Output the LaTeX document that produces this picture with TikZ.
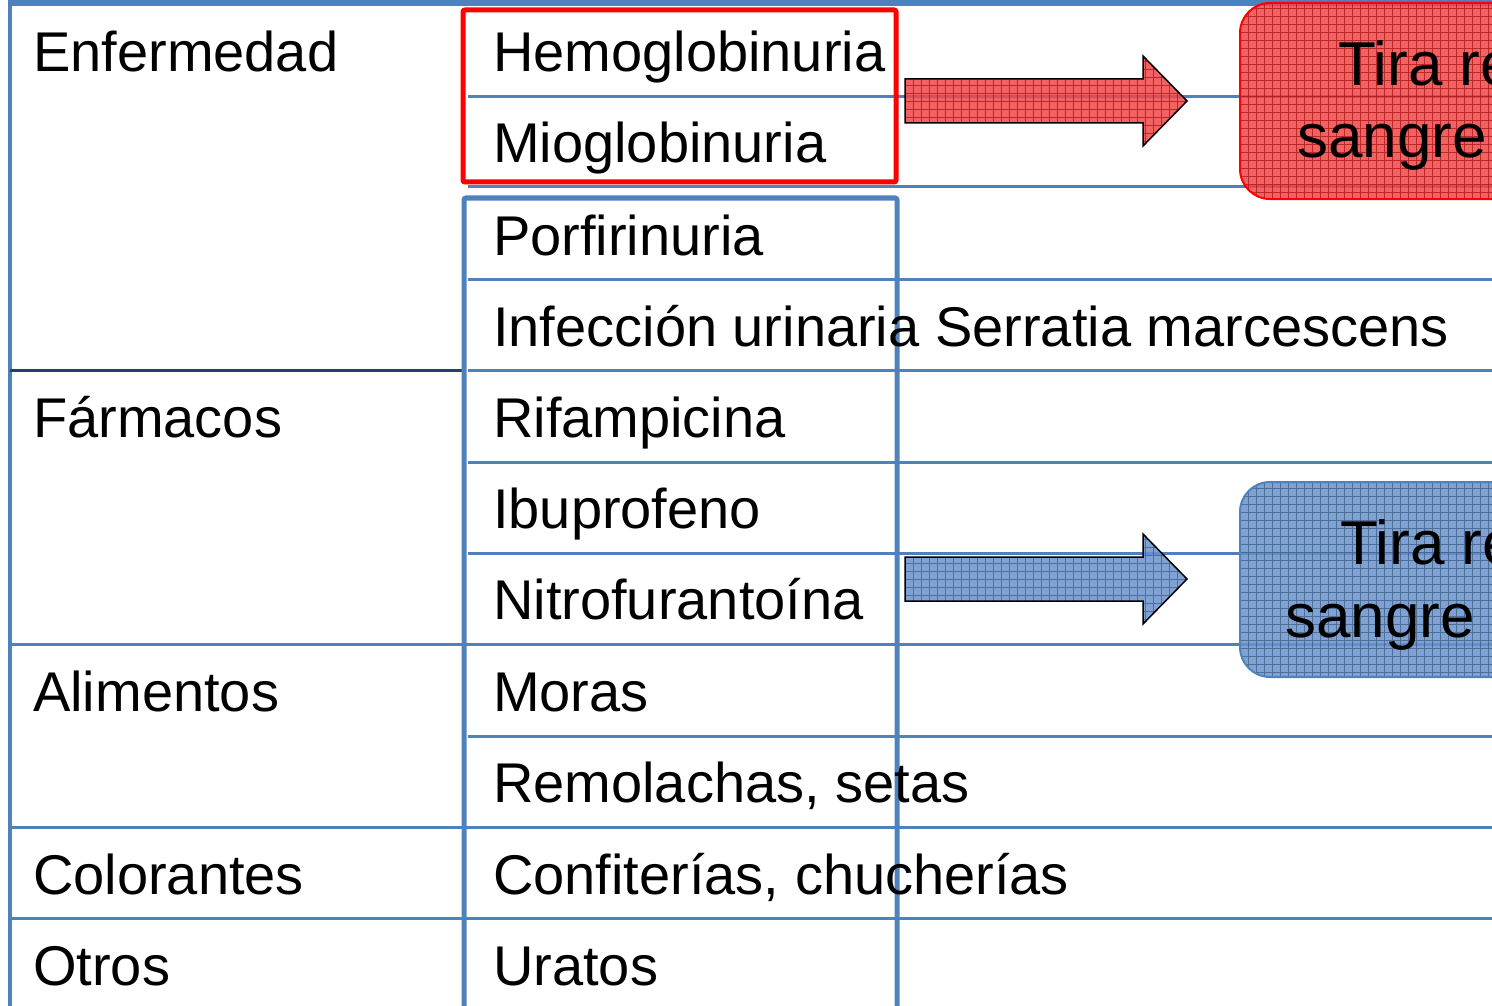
\documentclass[tikz,border=0pt]{standalone}
\usepackage{fontspec}
\setmainfont{Liberation Sans}
\usetikzlibrary{positioning}
\definecolor{tblue}{RGB}{79,129,189}
\definecolor{tnavy}{RGB}{36,64,112}
\definecolor{boxred}{RGB}{240,70,70}
\definecolor{boxblue}{RGB}{104,145,204}

\tikzset{
  rule/.style={tblue, line width=3},
  cell/.style={anchor=base west, inner sep=0pt, font=\fontsize{56}{60}\selectfont},
  boxtext/.style={anchor=base west, inner sep=0pt, font=\fontsize{62}{66}\selectfont},
  hatched/.style={path picture={\draw[#1, line width=0.5, opacity=0.6, step=8pt]
      (path picture bounding box.south west) grid (path picture bounding box.north east);}},
  redpatch/.style={fill=boxred, fill opacity=0.85, hatched=red!60!black},
  bluepatch/.style={fill=boxblue, fill opacity=0.85, hatched=tblue!60!black},
  pics/blockarrow/.style={code={
      \draw[pic actions] (0,-22) -- (238,-22) -- (238,-45) -- (282,0)
        -- (238,45) -- (238,22) -- (0,22) -- cycle;}}
}

\begin{document}
\begin{tikzpicture}[x=1pt, y=-1pt]
        \useasboundingbox (0,0) rectangle (1492,1006);
        \clip (0,0) rectangle (1492,1006);
        % table rules
        \draw[tblue, line width=6] (10,3) -- (1492,3);
        \draw[tblue, line width=4] (10,0) -- (10,1006);
        \draw[rule] (468,97) -- (1492,97);
        \draw[rule] (468,187) -- (1492,187);
        \draw[rule] (468,279) -- (1492,279);
        \draw[tnavy, line width=3] (10,370) -- (465,370);
        \draw[rule] (468,370) -- (1492,370);
        \draw[rule] (468,462) -- (1492,462);
        \draw[rule] (468,553) -- (1492,553);
        \draw[rule] (10,644) -- (1492,644);
        \draw[rule] (468,736) -- (1492,736);
        \draw[rule] (10,827) -- (1492,827);
        \draw[rule] (10,918) -- (1492,918);
        % highlight frames
        \draw[red, line width=5, rounded corners=2] (463,10) rectangle (896,182);
        \draw[tblue, line width=5, rounded corners=2] (464,198) rectangle (897,1012);
        % arrows and result boxes
        \pic[draw=black, line width=1.5, redpatch] (rarrow) at (905,101) {blockarrow};
        \pic[draw=black, line width=1.5, bluepatch] (barrow) at (905,579) {blockarrow};
        \draw[red, line width=2, rounded corners=30, redpatch] (1240,3) rectangle (1600,199);
        \draw[tblue, line width=2, rounded corners=30, bluepatch] (1240,482) rectangle (1600,677);
        \node[boxtext] (rtira) at (1338,86) {Tira re};
        \node[boxtext] (rsangre) at (1297,158) {sangre};
        \node[boxtext] (btira) at (1340,564) {Tira re};
        \node[boxtext] (bsangre) at (1285,637) {sangre};
        % first column
        \node[cell] (enf) at (33,72) {Enfermedad};
        \node[cell] (farm) at (33,437) {Fármacos};
        \node[cell] (alim) at (33,711) {Alimentos};
        \node[cell] (colo) at (33,894) {Colorantes};
        \node[cell] (otros) at (33,985) {Otros};
        % second column
        \node[cell] (hemo) at (493,72) {Hemoglobinuria};
        \node[cell] (mio) at (493,163) {Mioglobinuria};
        \node[cell] (porf) at (493,255) {Porfirinuria};
        \node[cell] (inf) at (493,346) {Infección urinaria Serratia marcescens};
        \node[cell] (rifa) at (493,437) {Rifampicina};
        \node[cell] (ibu) at (493,528) {Ibuprofeno};
        \node[cell] (nitro) at (493,619) {Nitrofurantoína};
        \node[cell] (moras) at (493,711) {Moras};
        \node[cell] (remo) at (493,802) {Remolachas, setas};
        \node[cell] (conf) at (493,894) {Confiterías, chucherías};
        \node[cell] (urat) at (493,985) {Uratos};
\end{tikzpicture}
\end{document}
